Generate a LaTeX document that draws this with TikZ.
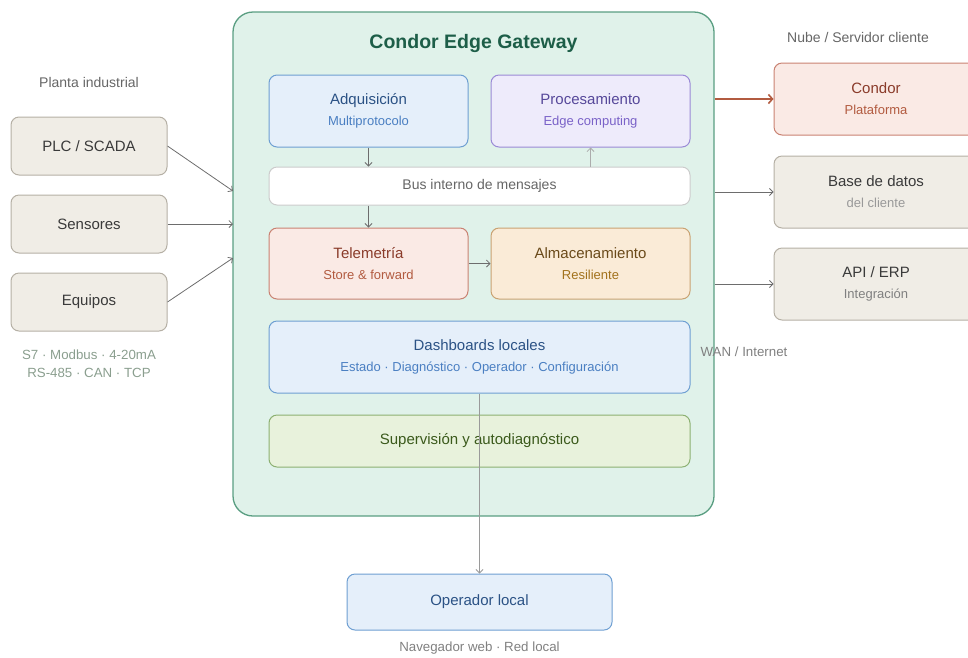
\documentclass[tikz,border=0pt]{standalone}
\usepackage{fontspec}
\setmainfont{Liberation Sans}
\usetikzlibrary{calc,arrows.meta}
\definecolor{gwfill}{HTML}{E0F2EA}
\definecolor{gwline}{HTML}{5A9E82}
\definecolor{gwtext}{HTML}{1D5E48}
\definecolor{bluefill}{HTML}{E5EFFA}
\definecolor{blueline}{HTML}{6E9FD2}
\definecolor{bluetext}{HTML}{2B5285}
\definecolor{bluesub}{HTML}{4A7FC2}
\definecolor{violfill}{HTML}{EEEBFB}
\definecolor{violline}{HTML}{9A8AD6}
\definecolor{violtext}{HTML}{56489A}
\definecolor{violsub}{HTML}{7A62C8}
\definecolor{redfill}{HTML}{FAEAE5}
\definecolor{redline}{HTML}{C98272}
\definecolor{redtext}{HTML}{8A3B2A}
\definecolor{redsub}{HTML}{B25B40}
\definecolor{orfill}{HTML}{FAEBD7}
\definecolor{orline}{HTML}{C9A272}
\definecolor{ortext}{HTML}{6A4A1A}
\definecolor{orsub}{HTML}{A2721C}
\definecolor{grnfill}{HTML}{E8F2DC}
\definecolor{grnline}{HTML}{8CB072}
\definecolor{grntext}{HTML}{3B5A1C}
\definecolor{sandfill}{HTML}{F0EDE6}
\definecolor{sandline}{HTML}{B5B0A5}
\definecolor{darktext}{HTML}{3A3A3A}
\definecolor{labgray}{HTML}{666666}
\definecolor{proto}{HTML}{8A9E8E}
\definecolor{arrowgray}{HTML}{888888}
\newcommand{\subline}[2]{{\fontsize{13}{15}\selectfont\color{#1}#2}}
\begin{document}
\begin{tikzpicture}[x=1pt,y=-1pt,>={Straight Barb[length=3.5pt,width=7pt]},
	box/.style={draw,rounded corners=8pt,line width=1pt,align=center,
		inner sep=0pt,font=\fontsize{15}{17}\selectfont},
	smallbox/.style={box,minimum width=199pt,minimum height=72pt},
	widebox/.style={box,minimum width=421pt},
	sidebox/.style={box,fill=sandfill,draw=sandline,text=darktext},
	lab/.style={font=\fontsize{14}{16}\selectfont,text=labgray,align=center},
	note/.style={lab,font=\fontsize{13.3}{18}\selectfont},
	conn/.style={->,draw=arrowgray!80!black,line width=0.8pt}]
	\useasboundingbox (0,0) rectangle (968,657);
	%gateway
	\node[draw=gwline,fill=gwfill,line width=1.3pt,rounded corners=20pt,
		minimum width=481pt,minimum height=504pt] (gw) at (473.5,264) {};
	\node[font=\bfseries\fontsize{19.5}{22}\selectfont,text=gwtext] (title) at (473.5,43) {Condor Edge Gateway};
	\node[smallbox,fill=bluefill,draw=blueline,text=bluetext] (adq) at (368.5,111)
		{Adquisición\\[4pt]\subline{bluesub}{Multiprotocolo}};
	\node[smallbox,fill=violfill,draw=violline,text=violtext] (proc) at (590.5,111)
		{Procesamiento\\[4pt]\subline{violsub}{Edge computing}};
	\node[widebox,minimum height=38pt,fill=white,draw=black!20,text=labgray,
		font=\fontsize{14}{16}\selectfont] (bus) at (479.5,186) {Bus interno de mensajes};
	\node[smallbox,minimum height=71pt,fill=redfill,draw=redline,text=redtext] (tel) at (368.5,263.5)
		{Telemetría\\[4pt]\subline{redsub}{Store \& forward}};
	\node[smallbox,minimum height=71pt,fill=orfill,draw=orline,text=ortext] (alm) at (590.5,263.5)
		{Almacenamiento\\[4pt]\subline{orsub}{Resiliente}};
	\node[widebox,minimum height=72pt,fill=bluefill,draw=blueline,text=bluetext] (dash) at (479.5,357)
		{Dashboards locales\\[4pt]\subline{bluesub}{Estado · Diagnóstico · Operador · Configuración}};
	\node[widebox,minimum height=52pt,fill=grnfill,draw=grnline,text=grntext] (sup) at (479.5,441)
		{Supervisión y autodiagnóstico};
	%planta
	\node[lab] (planta) at (89,82) {Planta industrial};
	\node[sidebox,minimum width=156pt,minimum height=58pt] (plc) at (89,146) {PLC / SCADA};
	\node[sidebox,minimum width=156pt,minimum height=58pt] (sens) at (89,224) {Sensores};
	\node[sidebox,minimum width=156pt,minimum height=58pt] (equ) at (89,302) {Equipos};
	\node[note,text=proto] (proto) at (89,364) {S7 · Modbus · 4-20mA\\RS-485 · CAN · TCP};
	\coordinate (in1) at (233,191);
	\coordinate (in2) at (233,224);
	\coordinate (in3) at (233,258);
	\draw[conn] (plc.east) -- (in1);
	\draw[conn] (sens.east) -- (in2);
	\draw[conn] (equ.east) -- (in3);
	%nube
	\node[lab] (nube) at (858,37) {Nube / Servidor cliente};
	\node[box,minimum width=204pt,minimum height=72pt,fill=redfill,draw=redline,text=redtext] (condor) at (876,99)
		{Condor\\[4pt]\subline{redsub}{Plataforma}};
	\node[sidebox,minimum width=204pt,minimum height=72pt,text=darktext] (bd) at (876,192)
		{Base de datos\\[4pt]\subline{black!40}{del cliente}};
	\node[sidebox,minimum width=204pt,minimum height=72pt,text=darktext] (api) at (876,284)
		{API / ERP\\[4pt]\subline{black!50}{Integración}};
	\node[note,text=black!50] (wan) at (744,352) {WAN / Internet};
	\draw[->,>={Straight Barb[length=4pt,width=9pt]},draw=redsub,line width=1.6pt] (gw.east |- condor.west) -- (condor.west);
	\draw[conn] (gw.east |- bd.west) -- (bd.west);
	\draw[conn] (gw.east |- api.west) -- (api.west);
	%interno
	\draw[conn] (adq.south) -- (adq.south |- bus.north);
	\draw[conn,draw=arrowgray!70] (proc.south |- bus.north) -- (proc.south);
	\draw[conn] (tel.north |- bus.south) -- (tel.north);
	\draw[conn] (tel.east) -- (alm.west);
	%operador
	\node[box,minimum width=265pt,minimum height=56pt,fill=bluefill,draw=blueline,text=bluetext] (op) at (479.5,602)
		{Operador local};
	\node[note,text=black!50] (nav) at (479.5,648) {Navegador web · Red local};
	\draw[conn,draw=arrowgray!85] (dash.south) -- (op.north);
\end{tikzpicture}
\end{document}
